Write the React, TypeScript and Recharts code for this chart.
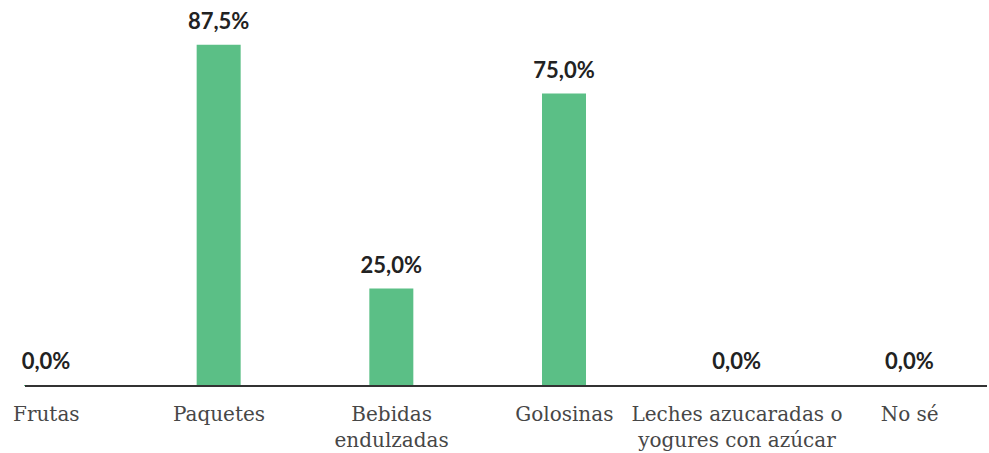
import { Bar, BarChart, LabelList, XAxis, YAxis } from 'recharts'

const categories = ['Frutas', 'Paquetes', 'Bebidas\nendulzadas', 'Golosinas', 'Leches azucaradas o\nyogures con azúcar', 'No sé']
const shares = [0, 87.5, 25, 75, 0, 0]

const data = categories.map((name, i) => ({ name, value: shares[i] }))

const fmt = (v: number) => v.toFixed(1).replace('.', ',') + '%'

function CategoryTick({ x, y, payload }: any) {
  const lines = String(payload.value).split('\n')
  return (
    <text
      x={x}
      y={y}
      textAnchor="middle"
      fontFamily="'DejaVu Serif', serif"
      fontSize={20}
      fill="#474747"
    >
      {lines.map((line, i) => (
        <tspan key={i} x={x} dy={i === 0 ? 27 : 26}>
          {line}
        </tspan>
      ))}
    </text>
  )
}

export default function App() {
  return (
    <div style={{ position: 'absolute', top: 0, left: 0, width: 989, height: 453, overflow: 'hidden', background: '#fff' }}>
      <BarChart
        width={989}
        height={453}
        data={data}
        margin={{ top: -4, right: 2, left: 25, bottom: 0 }}
        barSize={44}
      >
        <XAxis
          dataKey="name"
          height={67}
          padding={{ left: -65, right: -9 }}
          axisLine={{ stroke: '#333', strokeWidth: 2 }}
          tickLine={false}
          interval={0}
          tick={<CategoryTick />}
        />
        <YAxis hide domain={[0, 100]} />
        <Bar dataKey="value" fill="#5bbf86" minPointSize={1} isAnimationActive={false}>
          <LabelList
            dataKey="value"
            position="top"
            offset={16}
            formatter={(v: any) => fmt(Number(v))}
            style={{ fontFamily: 'Lato, sans-serif', fontWeight: 700, fontSize: 22, fill: '#222' }}
          />
        </Bar>
      </BarChart>
    </div>
  )
}
